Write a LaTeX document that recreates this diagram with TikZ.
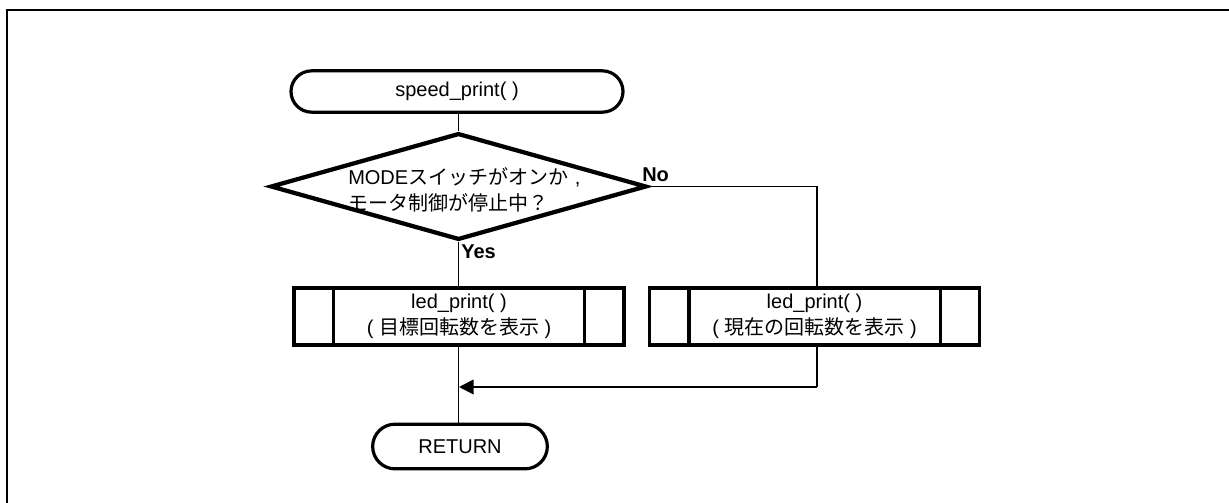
\documentclass[tikz,border=0pt]{standalone}
\usepackage{fontspec}
\setmainfont{Liberation Sans}
\newfontfamily\jp{Noto Sans CJK JP}
\usetikzlibrary{shapes.geometric,shapes.misc,arrows.meta,calc}
\begin{document}
\begin{tikzpicture}[x=0.75pt,y=-0.75pt,
  every node/.style={font=\fontsize{15pt}{19.5pt}\selectfont},
  term/.style={rounded rectangle, draw, line width=2.4pt, inner sep=0pt},
  decide/.style={diamond, draw, line width=3.2pt, inner sep=0pt, minimum width=282pt, minimum height=80pt},
  procbox/.style={rectangle, draw, line width=2.6pt, align=center, inner sep=0pt, minimum width=247.5pt, minimum height=42.75pt},
  conn/.style={line width=1.4pt},
  lbl/.style={inner sep=0pt, anchor=west, font=\fontsize{15pt}{19.5pt}\selectfont\bfseries}
]
\useasboundingbox (0,0) rectangle (1229,503);
\draw[line width=1.6pt] (7,540) -- (7,10) -- (1260,10);

\node[term, minimum width=249pt, minimum height=31pt] (start) at (457,91.5) {speed\_print( )};
\node[decide] (dec) at (458.5,186.5) {};
\node[inner sep=0pt, anchor=west, align=left] (dectext) at (348,190) {MODE{\jp スイッチがオンか}\,\,,\\{\jp モータ制御が停止中？}};
\node[procbox] (b1) at (459,316.5) {led\_print( )\\( {\jp 目標回転数を表示} )};
\node[procbox] (b2) at (814.5,316.5) {led\_print( )\\( {\jp 現在の回転数を表示} )};
\node[term, minimum width=131pt, minimum height=33.5pt] (ret) at (460,446.5) {RETURN};
\node[lbl] (yes) at (461,252) {Yes};
\node[lbl] (no) at (642,175) {No};

\foreach \b in {b1,b2}{
  \draw[line width=2.6pt] ($(\b.north west)+(41,0)$) -- ($(\b.south west)+(41,0)$);
  \draw[line width=2.6pt] ($(\b.north east)+(-41,0)$) -- ($(\b.south east)+(-41,0)$);
}

\coordinate (nocorner) at (817,186.5);
\coordinate (join) at (459,387);
\coordinate (rcorner) at (817,387);

\draw[conn] (start.south -| dec.north) -- (dec.north);
\draw[conn] (dec.south) -- (dec.south |- b1.north);
\draw[conn] (b1.south -| dec.south) -- (ret.north -| dec.south);
\draw[conn] (dec.east) -- (nocorner) -- (nocorner |- b2.north);
\draw[conn] (b2.south -| nocorner) -- (rcorner);
\draw[conn, -{Triangle[length=11pt,width=11pt]}] (rcorner) -- (join);
\end{tikzpicture}
\end{document}
